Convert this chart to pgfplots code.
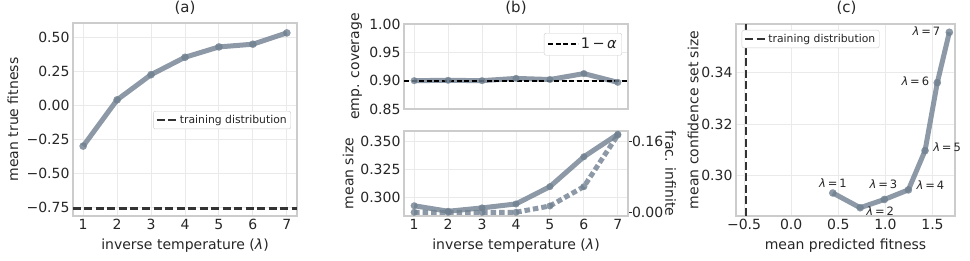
\documentclass[border=0pt]{standalone}
\usepackage{fontspec}
\setmainfont{DejaVu Sans}
\usepackage{pgfplots}
\pgfplotsset{compat=1.18}
\definecolor{sg}{RGB}{112,128,144}
\definecolor{tx}{RGB}{38,38,38}
\definecolor{gridc}{RGB}{234,234,234}
\definecolor{spine}{RGB}{204,204,204}
\definecolor{dk}{RGB}{51,51,51}
\newcommand{\lam}{{\itshape λ}}
\newcommand{\fs}[1]{\fontsize{#1}{#1}\selectfont}
\pgfplotsset{
  base/.style={
    scale only axis,
    grid=major,
    major grid style={gridc, line width=0.9pt},
    axis line style={spine, line width=1.1pt},
    major tick length=0pt,
    tick label style={font=\fs{14}, text=tx},
    label style={font=\fs{14}, text=tx},
    title style={font=\fs{15}, text=tx, anchor=center},
    clip=false,
    legend style={font=\fs{10.8}, text=tx, draw=spine, rounded corners=2pt, fill=white, inner sep=2pt, legend cell align=left},
    legend image code/.code={\draw[##1] (0pt,0pt) -- (20pt,0pt);},
  },
  mainline/.style={sg, opacity=0.8, line width=5pt, line join=round, mark=*, mark size=3.7pt, mark options={solid, line width=0.1pt}},
  trainline/.style={dk, line width=2.5pt, dash pattern=on 8pt off 3.5pt},
  wideleg/.style={legend image code/.code={\draw[##1] (0pt,0pt) -- (30pt,0pt);}},
}
\begin{document}
\begin{tikzpicture}
\useasboundingbox (0,0) rectangle (970pt,261pt);
% ---------------- (a)
\begin{axis}[base, at={(73pt,45pt)}, anchor=south west, width=224pt, height=193pt,
  xmin=0.7, xmax=7.3, ymin=-0.814, ymax=0.605,
  xtick={1,2,3,4,5,6,7}, xticklabels={1,2,3,4,5,6,7},
  ytick={-0.75,-0.5,-0.25,0,0.25,0.5},
  yticklabels={−0.75,−0.50,−0.25,0.00,0.25,0.50},
  title={(a)}, title style={at={(axis description cs:0.5,1.048)}},
  xlabel={inverse temperature (\lam)}, xlabel style={at={(axis description cs:0.5,-0.155)}, anchor=center},
  ylabel={mean true fitness}, ylabel style={at={(axis description cs:-0.268,0.5)}, anchor=center},
  legend style={at={(axis description cs:0.973,0.497)}, anchor=east},
]
\addplot[mainline, forget plot] coordinates {(1,-0.30)(2,0.04)(3,0.225)(4,0.353)(5,0.429)(6,0.449)(7,0.532)};
\addplot[trainline] coordinates {(0.7,-0.76)(7.3,-0.76)};
\addlegendentry{training distribution}
\end{axis}
% ---------------- (b) top
\begin{axis}[base, wideleg, at={(404pt,152pt)}, anchor=south west, width=224pt, height=85pt,
  xmin=0.7, xmax=7.3, ymin=0.85, ymax=1.0,
  xtick={1,2,3,4,5,6,7}, xticklabels={},
  ytick={0.85,0.9,0.95,1.0}, yticklabels={0.85,0.90,0.95,1.00},
  title={(b)}, title style={at={(axis description cs:0.5,1.118)}},
  ylabel={emp. coverage}, ylabel style={at={(axis description cs:-0.211,0.5)}, anchor=center},
  legend style={at={(axis description cs:0.973,0.894)}, anchor=north east, font=\fs{14.5}, inner sep=3pt},
]
\addplot[mainline, mark size=3.4pt, forget plot] coordinates {(1,0.900)(2,0.9006)(3,0.900)(4,0.904)(5,0.902)(6,0.9125)(7,0.897)};
\addplot[black, line width=1.8pt, dash pattern=on 5pt off 2.5pt] coordinates {(0.7,0.9)(7.3,0.9)};
\addlegendentry{1\,−\,{\itshape α}}
\end{axis}
% ---------------- (b) bottom
\begin{axis}[base, at={(404pt,45pt)}, anchor=south west, width=224pt, height=85pt,
  xmin=0.7, xmax=7.3, ymin=0.2834, ymax=0.3589,
  xtick={1,2,3,4,5,6,7}, xticklabels={1,2,3,4,5,6,7},
  ytick={0.3,0.325,0.35}, yticklabels={0.300,0.325,0.350},
  xlabel={inverse temperature (\lam)}, xlabel style={at={(axis description cs:0.5,-0.353)}, anchor=center},
  ylabel={mean size}, ylabel style={at={(axis description cs:-0.249,0.5)}, anchor=center},
]
\addplot[mainline, mark size=3.4pt] coordinates {(1,0.2925)(2,0.2876)(3,0.2906)(4,0.2941)(5,0.3095)(6,0.336)(7,0.356)};
\end{axis}
\begin{axis}[base, at={(404pt,45pt)}, anchor=south west, width=224pt, height=85pt,
  grid=none, axis x line=none, axis y line*=right,
  xmin=0.7, xmax=7.3, ymin=-0.0084, ymax=0.184,
  ytick={0,0.16}, yticklabels={0.00,0.16},
  major tick length=3.5pt, tick align=outside, ytick style={tx, line width=0.8pt},
  yticklabel style={xshift=-3pt},
  ylabel={frac. infinite},
  every axis y label/.style={at={(axis description cs:1.19,0.5)}, rotate=-90, anchor=center, font=\fs{14}, text=tx},
]
\addplot[mainline, mark size=3.4pt, dash pattern=on 5.5pt off 3pt] coordinates {(1,0)(2,0)(3,0)(4,0)(5,0.0143)(6,0.058)(7,0.175)};
\end{axis}
% ---------------- (c)
\begin{axis}[base, at={(736pt,45pt)}, anchor=south west, width=219pt, height=192pt,
  xmin=-0.586, xmax=1.739, ymin=0.2844, ymax=0.3587,
  xtick={-0.5,0,0.5,1,1.5}, xticklabels={−0.5,0.0,0.5,1.0,1.5},
  ytick={0.3,0.32,0.34}, yticklabels={0.30,0.32,0.34},
  title={(c)}, title style={at={(axis description cs:0.505,1.052)}},
  xlabel={mean predicted fitness}, xlabel style={at={(axis description cs:0.5,-0.156)}, anchor=center},
  ylabel={mean confidence set size}, ylabel style={at={(axis description cs:-0.196,0.5)}, anchor=center},
  legend style={at={(axis description cs:0.026,0.969)}, anchor=north west},
]
\addplot[mainline, forget plot] coordinates {(0.442,0.2933)(0.732,0.2876)(0.989,0.2908)(1.244,0.2945)(1.421,0.3097)(1.551,0.336)(1.679,0.3555)};
\addplot[trainline] coordinates {(-0.48,0.2844)(-0.48,0.3587)};
\addlegendentry{training distribution}
\begin{scope}[every node/.style={font=\fs{11.5}, text=tx, anchor=center}]
\node[xshift=0pt, yshift=10pt] at (axis cs:0.442,0.2933) {\lam\,=\,1};
\node[xshift=20pt, yshift=-3pt] at (axis cs:0.732,0.2876) {\lam\,=\,2};
\node[xshift=-1pt, yshift=15.5pt] at (axis cs:0.989,0.2908) {\lam\,=\,3};
\node[xshift=22pt, yshift=5pt] at (axis cs:1.244,0.2945) {\lam\,=\,4};
\node[xshift=22pt, yshift=3.3pt] at (axis cs:1.421,0.3097) {\lam\,=\,5};
\node[xshift=-22pt, yshift=1pt] at (axis cs:1.551,0.336) {\lam\,=\,6};
\node[xshift=-23pt, yshift=1pt] at (axis cs:1.679,0.3555) {\lam\,=\,7};
\end{scope}
\end{axis}
\end{tikzpicture}
\end{document}
